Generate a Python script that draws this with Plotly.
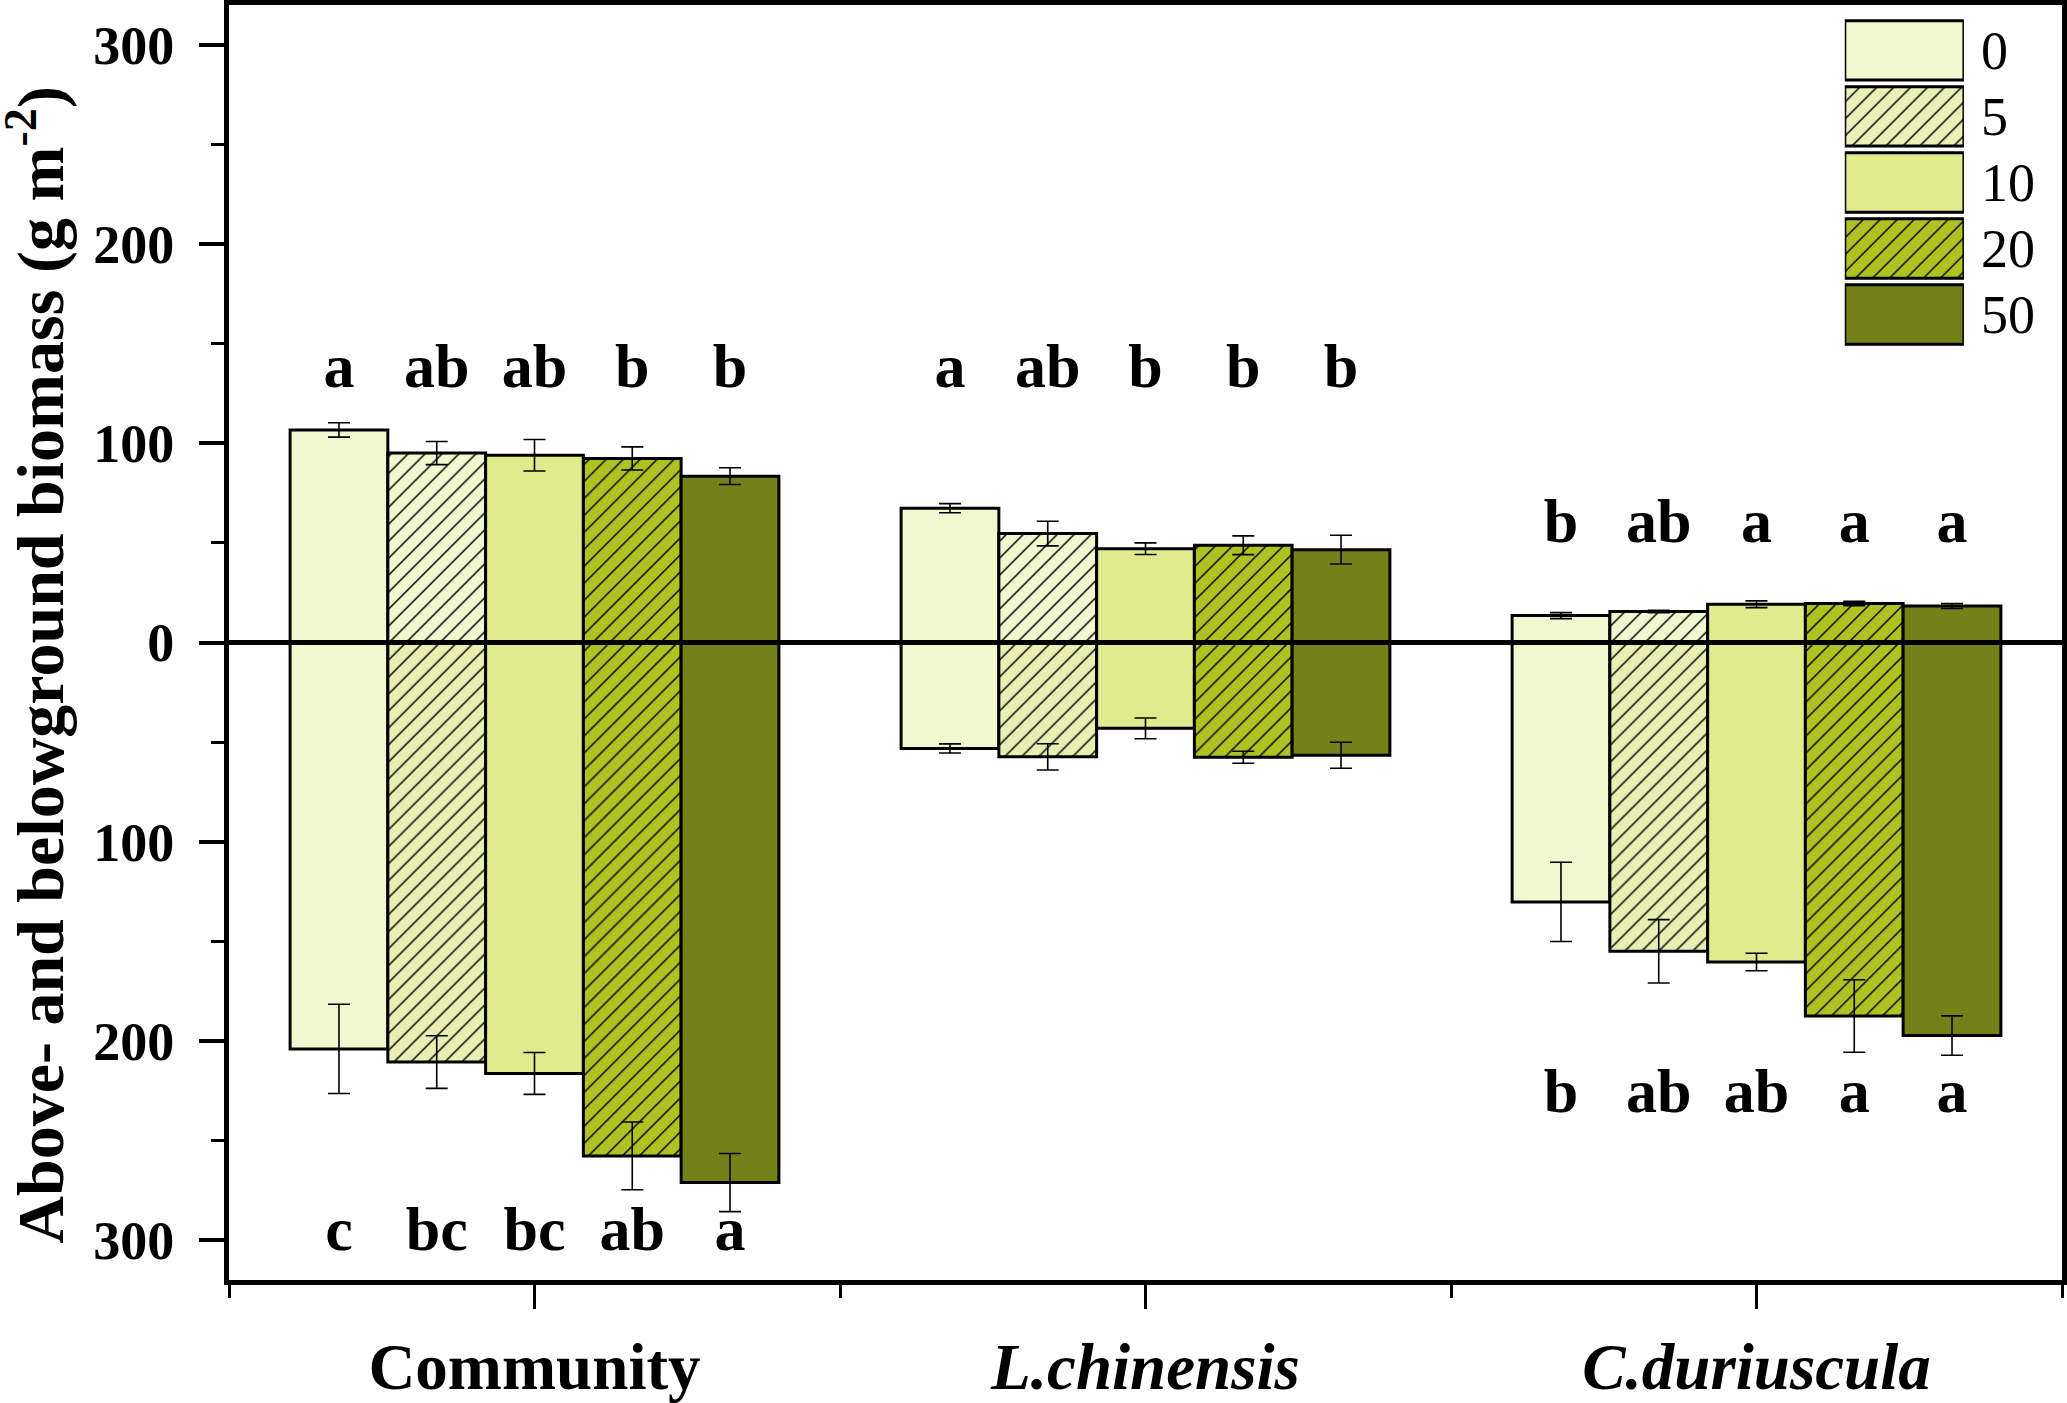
import plotly.graph_objects as go

# grupy a dávky
groups = ["Community", "L.chinensis", "C.duriuscula"]
group_labels = ["Community", "<i>L.chinensis</i>", "<i>C.duriuscula</i>"]
treatments = ["0", "5", "10", "20", "50"]

# nadzemní biomasa (g m-2), pořadí dávek 0, 5, 10, 20, 50
community_above = [106.7, 95.1, 94.0, 92.4, 83.5]
community_above_se = [3.6, 5.8, 7.9, 5.8, 4.2]
lch_above = [67.4, 54.7, 47.1, 48.8, 46.6]
lch_above_se = [2.3, 6.2, 2.9, 4.7, 7.2]
cdu_above = [13.5, 15.6, 19.2, 19.6, 18.3]
cdu_above_se = [1.5, 0.6, 1.7, 1.1, 1.2]

# podzemní biomasa (g m-2)
community_below = [204.0, 210.6, 216.3, 257.7, 271.1]
community_below_se = [22.4, 13.2, 10.5, 17.0, 14.6]
lch_below = [53.2, 57.4, 43.1, 57.6, 56.6]
lch_below_se = [2.3, 6.6, 5.2, 3.0, 6.5]
cdu_below = [130.2, 155.0, 160.4, 187.5, 197.3]
cdu_below_se = [19.9, 15.9, 4.4, 18.2, 9.9]

# písmena signifikance (L.chinensis dole nemá žádná)
community_above_letters = ["a", "ab", "ab", "b", "b"]
community_below_letters = ["c", "bc", "bc", "ab", "a"]
lch_above_letters = ["a", "ab", "b", "b", "b"]
lch_below_letters = None
cdu_above_letters = ["b", "ab", "a", "a", "a"]
cdu_below_letters = ["b", "ab", "ab", "a", "a"]

# výška písmen nad/pod sloupci
letter_y_above = [136, 136, 58]
letter_y_below = [-297, None, -228]

# vzhled
colors_above = ["#F1F7CF", "#F1F7CF", "#E0EB8D", "#AEC321", "#748119"]
colors_below = ["#F1F7CF", "#E7EFB2", "#E0EB8D", "#AEC321", "#748119"]
colors_legend = ["#F1F7CF", "#E9F1B8", "#E0EB8D", "#AEC321", "#748119"]
hatches = ["", "/", "", "/", ""]

FONT = "Liberation Serif"

above = [community_above, lch_above, cdu_above]
above_se = [community_above_se, lch_above_se, cdu_above_se]
below = [community_below, lch_below, cdu_below]
below_se = [community_below_se, lch_below_se, cdu_below_se]
above_letters = [community_above_letters, lch_above_letters, cdu_above_letters]
below_letters = [community_below_letters, lch_below_letters, cdu_below_letters]

xpos = list(range(len(groups)))


def pattern(i, col):
    return dict(shape=hatches[i], fgcolor="black", bgcolor=col,
                size=12, solidity=0.12, fillmode="replace")


fig = go.Figure()

for i, t in enumerate(treatments):
    for vals, ses, sign, cols in ((above, above_se, 1, colors_above),
                                  (below, below_se, -1, colors_below)):
        fig.add_trace(go.Bar(
            x=xpos,
            y=[sign * v[i] for v in vals],
            offsetgroup=t,
            name=t,
            showlegend=False,
            marker=dict(color=cols[i], line=dict(color="black", width=3),
                        pattern=pattern(i, cols[i])),
            error_y=dict(type="data", array=[s[i] for s in ses], symmetric=True,
                         color="black", thickness=1.6, width=11),
            hoverinfo="skip",
        ))

    # písmena
    for ys, lets in ((letter_y_above, above_letters), (letter_y_below, below_letters)):
        pts = [(g, y, l[i]) for g, y, l in zip(xpos, ys, lets) if l is not None]
        fig.add_trace(go.Scatter(
            x=[p[0] for p in pts],
            y=[p[1] for p in pts],
            text=[p[2] for p in pts],
            mode="text",
            offsetgroup=t,
            textfont=dict(family=FONT, size=62, color="black", weight="bold"),
            showlegend=False,
            hoverinfo="skip",
        ))

# vlastní legenda jako malý graf vpravo nahoře
for i, t in enumerate(treatments):
    fig.add_trace(go.Bar(
        x=[1],
        y=[t],
        orientation="h",
        width=0.9,
        offsetgroup="legend",
        xaxis="x2",
        yaxis="y2",
        showlegend=False,
        marker=dict(color=colors_legend[i], line=dict(color="black", width=3),
                    pattern=pattern(i, colors_legend[i])),
        hoverinfo="skip",
    ))

# nulová čára
fig.add_shape(type="line", xref="x domain", x0=0, x1=1, yref="y", y0=0, y1=0,
              line=dict(color="black", width=5), layer="above")

fig.add_annotation(
    text="Above- and belowground biomass (g m<sup>-2</sup>)",
    xref="paper", yref="paper", x=-0.1052, y=0.4827,
    textangle=-90, showarrow=False, xanchor="center", yanchor="middle",
    font=dict(family=FONT, size=66, color="black", weight="bold"),
)

y_ticks = [-300, -200, -100, 0, 100, 200, 300]

fig.update_layout(
    width=2067,
    height=1403,
    margin=dict(l=229, r=4, t=0, b=94),
    plot_bgcolor="white",
    paper_bgcolor="white",
    barmode="group",
    bargap=0.2,
    bargroupgap=0,
    scattermode="group",
    scattergap=0.2,
    xaxis=dict(
        range=[-0.5, 2.5],
        tickmode="array",
        tickvals=xpos,
        ticktext=group_labels,
        tickfont=dict(family=FONT, size=65, color="black", weight="bold"),
        ticks="outside", ticklen=24, tickwidth=3, tickcolor="black",
        ticklabelstandoff=2,
        minor=dict(tickmode="linear", tick0=0.5, dtick=1, ticks="outside",
                   ticklen=13, tickwidth=3, tickcolor="black"),
        showline=True, linecolor="black", linewidth=5, mirror=True,
        showgrid=False, zeroline=False, fixedrange=True,
    ),
    yaxis=dict(
        range=[-320, 320],
        tickmode="array",
        tickvals=y_ticks,
        ticktext=[str(abs(v)) for v in y_ticks],
        tickfont=dict(family=FONT, size=54, color="black", weight="bold"),
        ticks="outside", ticklen=25, tickwidth=3.5, tickcolor="black",
        ticklabelstandoff=14,
        minor=dict(tickmode="linear", tick0=0, dtick=50, ticks="outside",
                   ticklen=13, tickwidth=3, tickcolor="black"),
        showline=True, linecolor="black", linewidth=5, mirror=True,
        showgrid=False, zeroline=False, fixedrange=True,
    ),
    xaxis2=dict(
        domain=[0.8815, 0.9465], anchor="y2", range=[0, 1],
        visible=False, fixedrange=True,
    ),
    yaxis2=dict(
        domain=[0.7314, 0.9903], anchor="x2", side="right",
        autorange="reversed", type="category",
        ticks="", showline=False, showgrid=False, zeroline=False,
        tickfont=dict(family=FONT, size=54, color="black"),
        ticklabelstandoff=16, fixedrange=True,
    ),
)

# stránka bez okrajů, aby graf seděl přesně do okna
fig.write_html(
    "out.html",
    config={"displayModeBar": False},
    post_script="document.body.style.margin='0';"
                "document.documentElement.style.overflow='hidden';",
)
